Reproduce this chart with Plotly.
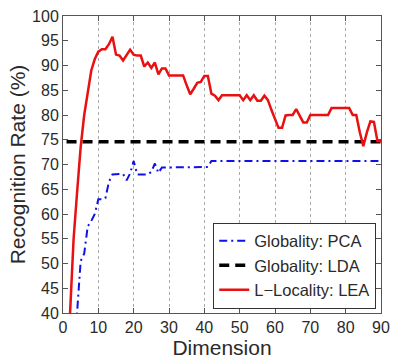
import plotly.graph_objects as go

# ---- data ----
lea_dim = list(range(1, 91))
lea_rate = [25, 41, 55, 64.5, 73.5, 80, 84.5, 89, 91.3, 92.8,
            93.3, 93.3, 94.3, 95.8, 92.2, 92.0, 91.0, 92.0, 93.2, 92.2,
            92.0, 92.0, 89.8, 90.6, 89.5, 90.6, 88.2, 89.4, 89.4, 88.0,
            88.0, 88.0, 88.0, 88.0, 86.0, 84.2, 85.3, 86.5, 86.7, 87.9,
            87.9, 84.3, 83.9, 83.0, 84.0, 84.0, 84.0, 84.0, 84.0, 84.0,
            83.0, 84.0, 83.0, 84.0, 82.9, 82.9, 83.9, 83.0, 81.0, 79.3,
            77.4, 77.4, 79.9, 80.0, 80.0, 81.2, 79.8, 78.5, 78.5, 80.0,
            80.0, 80.0, 80.0, 80.0, 80.0, 81.4, 81.4, 81.4, 81.4, 81.4,
            81.4, 80.0, 80.0, 76.5, 73.7, 76.5, 78.7, 78.6, 74.7, 74.7]

pca_dim = list(range(3, 91))
pca_rate = [30, 41, 50.5, 52, 57.5, 58.6, 60, 63, 63, 63.2,
            66.5, 68, 68, 68, 68.1, 66.8, 68.2, 70.7, 68, 68,
            68, 68, 68.5, 70.2, 68.3, 69.4, 69.4, 69.4, 69.4, 69.4,
            69.4, 69.4, 69.4, 69.4, 69.4, 69.4, 69.4, 69.4, 69.5, 70.7] + [70.7] * 48

lda_dim = [1, 90]
lda_rate = [74.6, 74.6]

x_ticks = [0, 10, 20, 30, 40, 50, 60, 70, 80, 90]
y_ticks = [40, 45, 50, 55, 60, 65, 70, 75, 80, 85, 90, 95, 100]

FONT = "Liberation Sans, Arial, sans-serif"
TXT = "#2a2a2a"

fig = go.Figure()
fig.add_trace(go.Scatter(x=pca_dim, y=pca_rate, mode="lines", name="Globality: PCA",
                         line=dict(color="#1010e8", width=2, dash="8px,4px,2px,4px")))
fig.add_trace(go.Scatter(x=lda_dim, y=lda_rate, mode="lines", name="Globality: LDA",
                         line=dict(color="black", width=3.5, dash="10px,6px")))
fig.add_trace(go.Scatter(x=lea_dim, y=lea_rate, mode="lines", name="L\u2212Locality: LEA",
                         line=dict(color="#e81010", width=2.5)))

fig.update_layout(
    width=395, height=359,
    margin=dict(l=63, r=5, t=16, b=45),
    paper_bgcolor="white", plot_bgcolor="white",
    font=dict(family=FONT, color=TXT, size=16),
    showlegend=True,
    legend=dict(x=0.985, y=0.015, xanchor="right", yanchor="bottom",
                bgcolor="white", bordercolor="#333", borderwidth=1,
                font=dict(size=16.5, color=TXT), tracegroupgap=0,
                itemwidth=30),
    xaxis=dict(range=[0, 90], tickvals=x_ticks, ticks="inside", ticklen=5,
               tickcolor="#555", showline=True, linecolor="#555", linewidth=1,
               mirror="ticks", showgrid=True, gridcolor="#aaa", griddash="dot",
               gridwidth=1, zeroline=False, ticklabeloverflow="allow",
               tickfont=dict(size=16, color=TXT),
               title=dict(text="Dimension", font=dict(size=21, color=TXT), standoff=3)),
    yaxis=dict(range=[40, 100], tickvals=y_ticks, ticks="inside", ticklen=5,
               tickcolor="#555", showline=True, linecolor="#555", linewidth=1,
               mirror="ticks", showgrid=False, zeroline=False,
               tickfont=dict(size=16, color=TXT),
               title=dict(text="Recognition Rate (%)", font=dict(size=21, color=TXT), standoff=0)),
)

fig.write_html("out.html")
